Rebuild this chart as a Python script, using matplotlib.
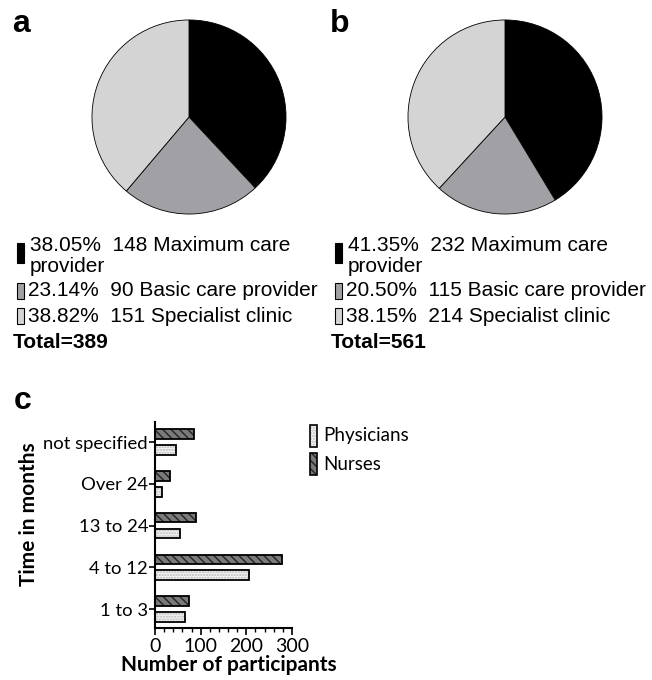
import matplotlib
matplotlib.use("Agg")
import matplotlib.pyplot as plt
from matplotlib.patches import Rectangle
import numpy as np

# pie data
pie_labels = ["Maximum care provider", "Basic care provider", "Specialist clinic"]
counts_a = [148, 90, 151]
counts_b = [232, 115, 214]
pct_a = ["38.05%", "23.14%", "38.82%"]
pct_b = ["41.35%", "20.50%", "38.15%"]
pie_colors = ["#000000", "#a1a1a5", "#d4d4d4"]

# bar data (bottom to top)
categories = ["1 to 3", "4 to 12", "13 to 24", "Over 24", "not specified"]
physicians = [65, 206, 55, 15, 47]
nurses = [74, 279, 89, 32, 86]

W, H = 652, 680
fig = plt.figure(figsize=(W / 100, H / 100), dpi=100)

def fx(x):
    return x / W

def fy(y):
    return 1 - y / H

def px_axes(x0, y0, x1, y1):
    return fig.add_axes([fx(x0), fy(y1), fx(x1 - x0), (y1 - y0) / H])

arial = "Liberation Sans"
calibri = "Lato"

# ---- pies ----
for (cx, counts, pcts, letter, lx) in [(189, counts_a, pct_a, "a", 12),
                                       (505, counts_b, pct_b, "b", 330)]:
    ax = px_axes(cx - 98, 19, cx + 98, 215)
    ax.pie(counts, colors=pie_colors, startangle=90, counterclock=False,
           wedgeprops=dict(edgecolor="black", linewidth=0.6))
    ax.set_xlim(-1.01, 1.01)
    ax.set_ylim(-1.01, 1.01)
    ax.set_aspect("equal")
    ax.axis("off")

    fig.text(fx(lx), fy(24), letter, fontsize=23, fontweight="bold",
             family=arial, va="center", ha="left")

    mx = lx + 5
    tx = lx + 18
    # black marker spans two lines
    fig.add_artist(Rectangle((fx(mx), fy(263)), 7 / W, 20 / H,
                             transform=fig.transFigure, facecolor=pie_colors[0],
                             edgecolor="black", linewidth=0.8))
    fig.text(fx(tx), fy(245), f"{pcts[0]}  {counts[0]} Maximum care",
             fontsize=15, family=arial, va="center")
    fig.text(fx(tx), fy(267), "provider", fontsize=15, family=arial, va="center")
    for i, ym in [(1, 291), (2, 316)]:
        fig.add_artist(Rectangle((fx(mx), fy(ym + 8)), 7 / W, 16 / H,
                                 transform=fig.transFigure, facecolor=pie_colors[i],
                                 edgecolor="black", linewidth=0.8))
        fig.text(fx(tx - 2), fy(ym), f"{pcts[i]}  {counts[i]} {pie_labels[i]}",
                 fontsize=15, family=arial, va="center")
    fig.text(fx(lx + 1), fy(343), f"Total={sum(counts)}", fontsize=15,
             fontweight="bold", family=arial, va="center")

# ---- bar chart ----
fig.text(fx(14), fy(401), "c", fontsize=23, fontweight="bold", family=arial,
         va="center", ha="left")

axc = px_axes(155, 422, 292, 628)
y = np.arange(len(categories))
off = 0.19
bh = 0.23
# physicians: dotted light fill
axc.barh(y - off, physicians, height=bh, color="#f3f3f3", hatch="......",
         edgecolor="#b8b8b8", linewidth=0)
axc.barh(y - off, physicians, height=bh, fill=False, edgecolor="black",
         linewidth=1.3)
# nurses: dark hatched
axc.barh(y + off, nurses, height=bh, color="#7a7a7a", hatch="\\\\\\\\",
         edgecolor="#222222", linewidth=0)
axc.barh(y + off, nurses, height=bh, fill=False, edgecolor="black",
         linewidth=1.3)

axc.set_xlim(0, 300)
axc.set_ylim(-0.455, 4.48)
axc.set_yticks(y)
axc.set_yticklabels(categories, family=calibri, fontsize=13.3)
axc.set_xticks([0, 100, 200, 300])
axc.set_xticks(np.arange(0, 301, 20), minor=True)
axc.set_xticklabels(["0", "100", "200", "300"], family=calibri, fontsize=14)
axc.tick_params(axis="y", length=4, width=1.2, pad=1)
axc.tick_params(axis="x", which="major", length=5, width=1.2, pad=2)
axc.tick_params(axis="x", which="minor", length=3, width=1)
for s in ["top", "right"]:
    axc.spines[s].set_visible(False)
for s in ["left", "bottom"]:
    axc.spines[s].set_linewidth(1.5)
fig.text(fx(229), fy(665), "Number of participants", family=calibri,
         fontsize=15, fontweight="bold", ha="center", va="center")
fig.text(fx(29), fy(514), "Time in months", family=calibri, fontsize=15,
         fontweight="bold", ha="center", va="center", rotation=90)

# legend
for (yl, label, fc, hatch, hc) in [(436, "Physicians", "#f3f3f3", "......", "#b8b8b8"),
                                   (464, "Nurses", "#7a7a7a", "\\\\\\\\", "#222222")]:
    fig.add_artist(Rectangle((fx(310), fy(yl + 11)), 7 / W, 22 / H,
                             transform=fig.transFigure, facecolor=fc,
                             hatch=hatch, edgecolor=hc, linewidth=0))
    fig.add_artist(Rectangle((fx(310), fy(yl + 11)), 7 / W, 22 / H,
                             transform=fig.transFigure, fill=False,
                             edgecolor="black", linewidth=1.2))
    fig.text(fx(323), fy(yl), label, family=calibri, fontsize=13.5, va="center")

fig.savefig("out.png", dpi=100)
